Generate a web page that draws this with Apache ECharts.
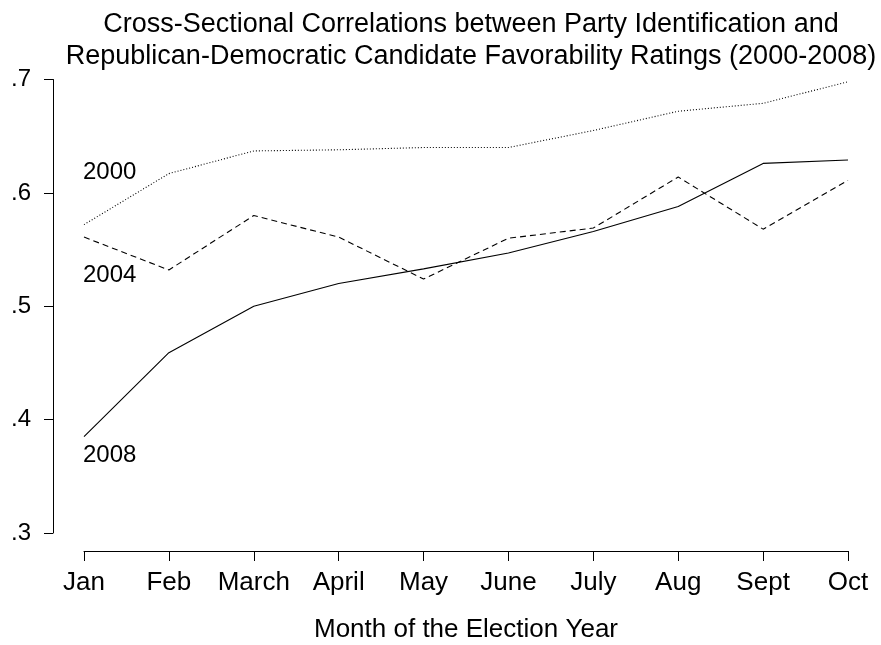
<!DOCTYPE html>
<html>
<head>
<meta charset="utf-8">
<script src="https://cdn.jsdelivr.net/npm/echarts@6/dist/echarts.min.js"></script>
<style>
  html, body { margin: 0; padding: 0; background: #fff; }
  #chart { width: 881px; height: 645px; }
</style>
</head>
<body>
<div id="chart"></div>
<script>
// Months of the election year
const months = ['Jan', 'Feb', 'March', 'April', 'May', 'June', 'July', 'Aug', 'Sept', 'Oct'];

// Cross-sectional correlations by election year
const corr2000 = [0.572, 0.617, 0.637, 0.638, 0.640, 0.640, 0.655, 0.672, 0.679, 0.698];
const corr2004 = [0.561, 0.532, 0.580, 0.561, 0.524, 0.560, 0.569, 0.614, 0.568, 0.611];
const corr2008 = [0.385, 0.459, 0.500, 0.520, 0.533, 0.547, 0.566, 0.588, 0.626, 0.629];

// Y tick labels, written the way the axis shows them
const yTicks = [0.3, 0.4, 0.5, 0.6, 0.7];
const yTickText = ['.3', '.4', '.5', '.6', '.7'];

const FONT = '"Liberation Sans", Arial, sans-serif';
const chart = echarts.init(document.getElementById('chart'), null, { renderer: 'canvas' });

function seriesOf(name, data, dash) {
  return {
    name: name,
    type: 'line',
    data: data,
    symbol: 'none',
    silent: true,
    lineStyle: { color: '#000', width: 1.1, type: dash }
  };
}

chart.setOption({
  animation: false,
  backgroundColor: '#fff',
  title: {
    text: 'Cross-Sectional Correlations between Party Identification and\nRepublican-Democratic Candidate Favorability Ratings (2000-2008)',
    left: 466,
    top: 4,
    textAlign: 'center',
    textStyle: { fontFamily: FONT, fontSize: 27, fontWeight: 'normal', color: '#000', lineHeight: 32 }
  },
  grid: { left: 84, right: 33, top: 79.5, bottom: 112, containLabel: false, outerBoundsMode: 'none' },
  xAxis: {
    type: 'category',
    data: months,
    boundaryGap: false,
    offset: 18,
    name: 'Month of the Election Year',
    nameLocation: 'middle',
    nameGap: 66,
    nameTextStyle: { fontFamily: FONT, fontSize: 26, color: '#000', verticalAlign: 'top' },
    axisLine: { show: true, lineStyle: { color: '#000', width: 1 } },
    axisTick: { show: true, length: 10, alignWithLabel: true, lineStyle: { color: '#000' } },
    axisLabel: { fontFamily: FONT, fontSize: 26, color: '#000', margin: 19, interval: 0 },
    splitLine: { show: false }
  },
  yAxis: {
    type: 'value',
    min: 0.3,
    max: 0.7,
    interval: 0.1,
    offset: 31,
    axisLine: { show: true, lineStyle: { color: '#000', width: 1 } },
    axisTick: { show: true, length: 9, lineStyle: { color: '#000' } },
    axisLabel: {
      fontFamily: FONT, fontSize: 24, color: '#000', margin: 22, padding: [5, 0, 0, 0],
      formatter: function (v) {
        const i = yTicks.findIndex(t => Math.abs(t - v) < 1e-9);
        return i >= 0 ? yTickText[i] : '';
      }
    },
    splitLine: { show: false }
  },
  series: [
    seriesOf('2000', corr2000, [1, 2]),
    seriesOf('2004', corr2004, [6, 4]),
    seriesOf('2008', corr2008, 'solid')
  ]
});

// Year labels placed next to each line's January point
const yearLabels = [
  { text: '2000', data: corr2000, dy: -52 },
  { text: '2004', data: corr2004, dy: 38 },
  { text: '2008', data: corr2008, dy: 18.5 }
];
chart.setOption({
  graphic: yearLabels.map(function (l) {
    const p = chart.convertToPixel({ xAxisIndex: 0, yAxisIndex: 0 }, [0, l.data[0]]);
    return {
      type: 'text',
      x: p[0] - 1,
      y: p[1] + l.dy,
      silent: true,
      style: {
        text: l.text, fill: '#000', fontFamily: FONT, fontSize: 24,
        textAlign: 'left', textVerticalAlign: 'middle'
      }
    };
  })
});
</script>
</body>
</html>
